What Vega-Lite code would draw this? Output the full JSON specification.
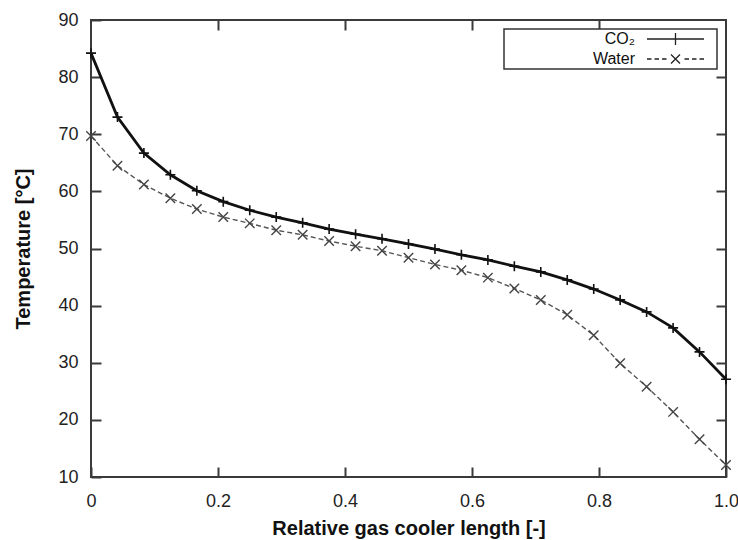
{
  "$schema": "https://vega.github.io/schema/vega-lite/v6.json",
  "width": 635,
  "height": 457,
  "autosize": {"type": "none"},
  "padding": {"left": 91, "top": 20, "right": 12, "bottom": 63},
  "background": "white",
  "config": {
    "font": "Liberation Sans",
    "view": {"stroke": "#3a3a3a", "strokeWidth": 2},
    "axis": {
      "grid": false,
      "domain": false,
      "tickSize": -10,
      "tickWidth": 2,
      "tickColor": "#3a3a3a",
      "labelFont": "Liberation Sans",
      "labelFontSize": 18,
      "labelColor": "#222",
      "titleFont": "Liberation Sans",
      "titleFontSize": 20,
      "titleFontWeight": "bold",
      "titleColor": "#111"
    },
    "legend": {"strokeWidth": 1.5}
  },
  "data": {
    "values": [
      {"series": "CO₂", "x": 0, "T": 84.2},
      {"series": "CO₂", "x": 0.0417, "T": 73.0},
      {"series": "CO₂", "x": 0.0833, "T": 66.7},
      {"series": "CO₂", "x": 0.125, "T": 62.9},
      {"series": "CO₂", "x": 0.1667, "T": 60.1},
      {"series": "CO₂", "x": 0.2083, "T": 58.2},
      {"series": "CO₂", "x": 0.25, "T": 56.7},
      {"series": "CO₂", "x": 0.2917, "T": 55.5},
      {"series": "CO₂", "x": 0.3333, "T": 54.5},
      {"series": "CO₂", "x": 0.375, "T": 53.4},
      {"series": "CO₂", "x": 0.4167, "T": 52.5},
      {"series": "CO₂", "x": 0.4583, "T": 51.7},
      {"series": "CO₂", "x": 0.5, "T": 50.8},
      {"series": "CO₂", "x": 0.5417, "T": 49.9},
      {"series": "CO₂", "x": 0.5833, "T": 48.9},
      {"series": "CO₂", "x": 0.625, "T": 48.0},
      {"series": "CO₂", "x": 0.6667, "T": 46.9},
      {"series": "CO₂", "x": 0.7083, "T": 45.9},
      {"series": "CO₂", "x": 0.75, "T": 44.5},
      {"series": "CO₂", "x": 0.7917, "T": 42.9},
      {"series": "CO₂", "x": 0.8333, "T": 41.0},
      {"series": "CO₂", "x": 0.875, "T": 38.9},
      {"series": "CO₂", "x": 0.9167, "T": 36.1},
      {"series": "CO₂", "x": 0.9583, "T": 31.9},
      {"series": "CO₂", "x": 1, "T": 27.1},
      {"series": "Water", "x": 0, "T": 69.7},
      {"series": "Water", "x": 0.0417, "T": 64.5},
      {"series": "Water", "x": 0.0833, "T": 61.2},
      {"series": "Water", "x": 0.125, "T": 58.8},
      {"series": "Water", "x": 0.1667, "T": 56.9},
      {"series": "Water", "x": 0.2083, "T": 55.5},
      {"series": "Water", "x": 0.25, "T": 54.4},
      {"series": "Water", "x": 0.2917, "T": 53.2},
      {"series": "Water", "x": 0.3333, "T": 52.4},
      {"series": "Water", "x": 0.375, "T": 51.3},
      {"series": "Water", "x": 0.4167, "T": 50.4},
      {"series": "Water", "x": 0.4583, "T": 49.6},
      {"series": "Water", "x": 0.5, "T": 48.4},
      {"series": "Water", "x": 0.5417, "T": 47.2},
      {"series": "Water", "x": 0.5833, "T": 46.2},
      {"series": "Water", "x": 0.625, "T": 44.9},
      {"series": "Water", "x": 0.6667, "T": 43.0},
      {"series": "Water", "x": 0.7083, "T": 41.0},
      {"series": "Water", "x": 0.75, "T": 38.4},
      {"series": "Water", "x": 0.7917, "T": 34.8},
      {"series": "Water", "x": 0.8333, "T": 29.9},
      {"series": "Water", "x": 0.875, "T": 25.8},
      {"series": "Water", "x": 0.9167, "T": 21.4},
      {"series": "Water", "x": 0.9583, "T": 16.6},
      {"series": "Water", "x": 1, "T": 12.1}
    ]
  },
  "layer": [
    {
      "encoding": {
        "x": {
          "field": "x",
          "type": "quantitative",
          "scale": {"domain": [0, 1], "nice": false},
          "axis": {
            "values": [0, 0.2, 0.4, 0.6, 0.8, 1],
            "labelExpr": "datum.value == 0 ? '0' : format(datum.value, '.1f')",
            "labelFlush": false,
            "labelPadding": 25,
            "title": "Relative gas cooler length [-]",
            "titlePadding": 8
          }
        },
        "y": {
          "field": "T",
          "type": "quantitative",
          "scale": {"domain": [10, 90], "nice": false},
          "axis": {
            "values": [10, 20, 30, 40, 50, 60, 70, 80, 90],
            "labelPadding": 23,
            "title": "Temperature [°C]",
            "titlePadding": 24
          }
        }
      },
      "layer": [
        {
          "transform": [{"filter": "datum.series == 'Water'"}],
          "mark": {"type": "line", "color": "#555", "strokeWidth": 1.4, "strokeDash": [5, 3]}
        },
        {
          "transform": [{"filter": "datum.series == 'Water'"}],
          "mark": {"type": "point", "shape": "M-1,-1L1,1M-1,1L1,-1", "size": 90, "filled": false, "color": "#444", "strokeWidth": 1.4, "opacity": 1}
        },
        {
          "transform": [{"filter": "datum.series == 'CO₂'"}],
          "mark": {"type": "line", "color": "#111", "strokeWidth": 2.8}
        },
        {
          "transform": [{"filter": "datum.series == 'CO₂'"}],
          "mark": {"type": "point", "shape": "M-1,0H1M0,-1V1", "size": 100, "filled": false, "color": "#111", "strokeWidth": 1.6, "opacity": 1}
        }
      ]
    },
    {
      "transform": [{"filter": "false"}],
      "mark": {"type": "point", "filled": false, "color": "#222", "strokeWidth": 1.3, "opacity": 1},
      "encoding": {
        "x": {
          "field": "x",
          "type": "quantitative",
          "scale": {"domain": [0, 1], "nice": false},
          "axis": {"orient": "top", "values": [0.2, 0.4, 0.6, 0.8], "labels": false, "title": null}
        },
        "y": {
          "field": "T",
          "type": "quantitative",
          "scale": {"domain": [10, 90], "nice": false},
          "axis": {"orient": "right", "values": [20, 30, 40, 50, 60, 70, 80], "labels": false, "title": null}
        },
        "shape": {
          "field": "series",
          "type": "nominal",
          "scale": {
            "domain": ["CO₂", "Water"],
            "range": [
              "M133,0H190M161.5,-6V6M198,0",
              "M133,0H137.5M140.5,0H145M148,0H152.5M157,-4.5L166,4.5M157,4.5L166,-4.5M170.5,0H175M178,0H182.5M185.5,0H190M198,0"
            ]
          },
          "legend": {
            "title": null,
            "orient": "top-right",
            "offset": 9,
            "padding": 2,
            "strokeColor": "#333",
            "fillColor": "white",
            "symbolSize": 4,
            "symbolStrokeWidth": 1.3,
            "symbolStrokeColor": "#222",
            "symbolFillColor": "transparent",
            "labelAlign": "right",
            "labelOffset": 113,
            "labelFontSize": 16,
            "labelFont": "Liberation Sans",
            "labelColor": "#111",
            "rowPadding": 3
          }
        }
      }
    }
  ],
  "resolve": {"axis": {"x": "independent", "y": "independent"}}
}
